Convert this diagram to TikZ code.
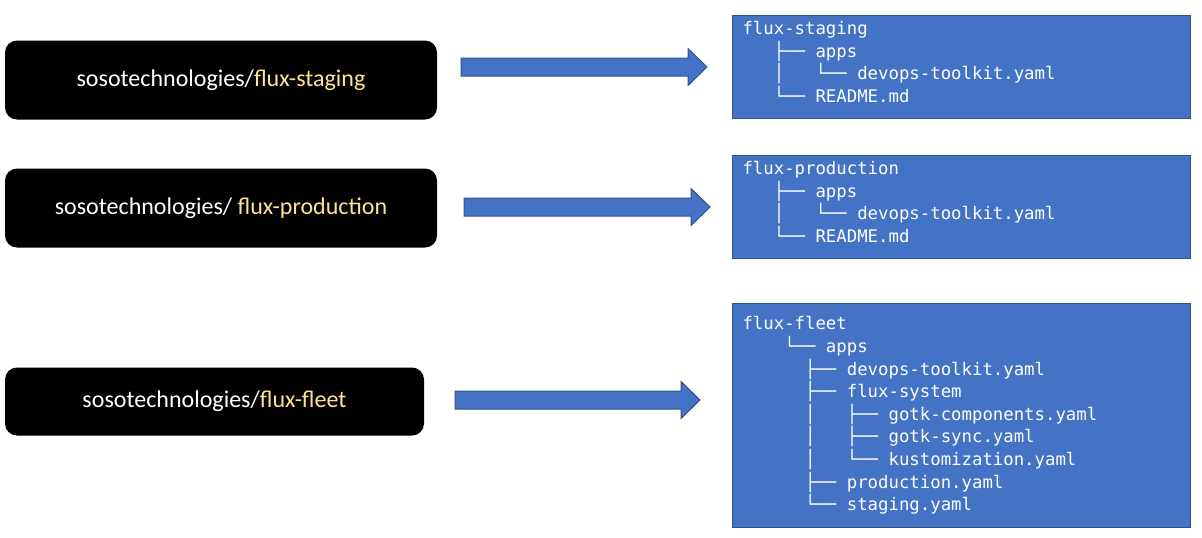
\documentclass[tikz,border=0pt]{standalone}
\usepackage{fontspec}
\newfontfamily\repofont{Carlito}
\newfontfamily\treefont{DejaVu Sans Mono}
\usetikzlibrary{positioning}
\definecolor{treeblue}{HTML}{4472C4}
\definecolor{treeedge}{HTML}{2F528F}
\definecolor{repogold}{HTML}{FFE38F}
\newcommand\ind[1]{\hspace*{#1\dimexpr0.602em\relax}}
\tikzset{
  repo/.style={fill=black, rounded corners=9pt, text=white, inner sep=0pt,
    font=\repofont\fontsize{18}{22}\selectfont,
    minimum width=324pt, minimum height=59.25pt},
  tree/.style={fill=treeblue, draw=treeedge, line width=0.75pt, text=white,
    font=\treefont\fontsize{13}{16.95}\selectfont, align=left,
    text width=328.5pt, inner xsep=7.5pt, inner ysep=0pt,
    minimum width=343.5pt, anchor=north west},
  flow/.style={fill=treeblue, draw=treeedge, line width=0.75pt}
}

\begin{document}
\begin{tikzpicture}[x=0.75pt, y=-0.75pt]
    \fill[white] (0,0) rectangle (1202,537);
    \useasboundingbox (0,0) rectangle (1202,537);

    % Repositories
    \node[repo] (staging) at (221,80) {sosotechnologies/\textcolor{repogold}{flux-staging}};
    \node[repo] (production) at (221,208) {sosotechnologies/ \textcolor{repogold}{flux-production}};
    \node[repo, minimum width=314.25pt, minimum height=51pt] (fleet) at (214.5,401.5) {sosotechnologies/\textcolor{repogold}{flux-fleet}};

    % Block arrows
    \foreach \xa/\xb/\y in {461/707/67, 464/710/207, 455/700/400}
        \draw[flow] (\xa,\y-9) -- (\xb-19,\y-9) -- (\xb-19,\y-18.5) -- (\xb,\y)
            -- (\xb-19,\y+18.5) -- (\xb-19,\y+9) -- (\xa,\y+9) -- cycle;

    % Repository trees
    \node[tree, minimum height=77.25pt] (stagingtree) at (732,15) {flux-staging\\
        \ind{3}├──\ind{1}apps\\
        \ind{3}│\ind{3}└──\ind{1}devops-toolkit.yaml\\
        \ind{3}└──\ind{1}README.md\rule[-7.5pt]{0pt}{1pt}};
    \node[tree, minimum height=77.25pt] (productiontree) at (732,155) {flux-production\\
        \ind{3}├──\ind{1}apps\\
        \ind{3}│\ind{3}└──\ind{1}devops-toolkit.yaml\\
        \ind{3}└──\ind{1}README.md\rule[-7.5pt]{0pt}{1pt}};
    \node[tree, minimum height=168pt] (fleettree) at (732,303) {flux-fleet\\
        \ind{4}└──\ind{1}apps\\
        \ind{6}├──\ind{1}devops-toolkit.yaml\\
        \ind{6}├──\ind{1}flux-system\\
        \ind{6}│\ind{3}├──\ind{1}gotk-components.yaml\\
        \ind{6}│\ind{3}├──\ind{1}gotk-sync.yaml\\
        \ind{6}│\ind{3}└──\ind{1}kustomization.yaml\\
        \ind{6}├──\ind{1}production.yaml\\
        \ind{6}└──\ind{1}staging.yaml};
\end{tikzpicture}
\end{document}
